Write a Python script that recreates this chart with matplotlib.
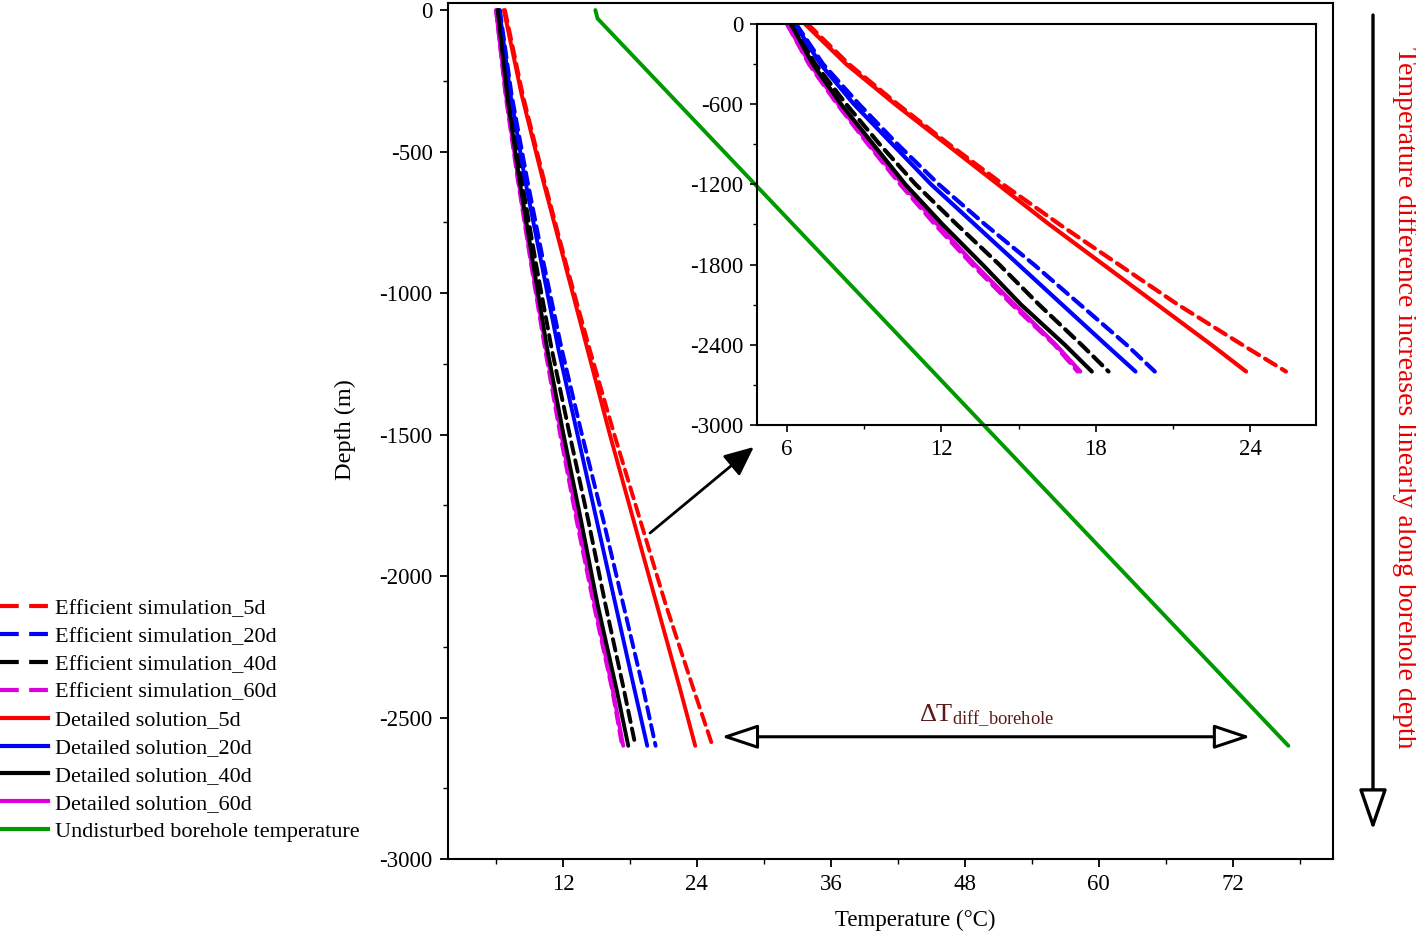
import numpy as np
import matplotlib
matplotlib.use('Agg')
from matplotlib import pyplot as plt
from matplotlib.ticker import MultipleLocator
from matplotlib.lines import Line2D

plt.rcParams['font.family'] = ['Liberation Serif', 'DejaVu Serif']
plt.rcParams['axes.unicode_minus'] = False
plt.rcParams['mathtext.fontset'] = 'custom'
plt.rcParams['mathtext.rm'] = 'Liberation Serif'

# depth points (m) and temperatures (C)
depth = [0, -300, -600, -900, -1200, -1500, -1800, -2100, -2400, -2600]
eff_5d = [6.8, 8.4, 10.3, 12.3, 14.4, 16.6, 18.9, 21.2, 23.7, 25.4]
eff_20d = [6.35, 7.4, 8.8, 10.3, 11.9, 13.7, 15.6, 17.4, 19.2, 20.3]
eff_40d = [6.2, 7.1, 8.3, 9.6, 11.0, 12.6, 14.25, 15.8, 17.45, 18.5]
eff_60d = [6.0, 6.85, 7.95, 9.15, 10.4, 11.75, 13.2, 14.75, 16.4, 17.3]
det_5d = [6.7, 8.3, 10.2, 12.2, 14.2, 16.2, 18.3, 20.4, 22.5, 23.85]
det_20d = [6.3, 7.3, 8.6, 10.1, 11.6, 13.3, 15.0, 16.7, 18.4, 19.55]
det_40d = [6.15, 7.0, 8.1, 9.35, 10.6, 12.05, 13.6, 15.1, 16.8, 17.85]
det_60d = [6.0, 6.9, 8.0, 9.2, 10.5, 11.85, 13.3, 14.85, 16.45, 17.4]
ground_depth = [0, -30, -2600]
ground_temp = [14.9, 15.1, 77.0]

labels = ['Efficient simulation_5d', 'Efficient simulation_20d',
          'Efficient simulation_40d', 'Efficient simulation_60d',
          'Detailed solution_5d', 'Detailed solution_20d',
          'Detailed solution_40d', 'Detailed solution_60d',
          'Undisturbed borehole temperature']

RED = '#ff0000'
BLUE = '#0000ff'
BLACK = '#000000'
MAG = '#dd00dd'
GREEN = '#009900'

series = [
    (eff_60d, MAG, True), (det_60d, MAG, False),
    (eff_5d, RED, True), (eff_20d, BLUE, True), (eff_40d, BLACK, True),
    (det_5d, RED, False), (det_20d, BLUE, False), (det_40d, BLACK, False),
]

fig = plt.figure(figsize=(14.16, 9.34), dpi=100)
ax = fig.add_axes([0.3164, 0.0803, 0.625, 0.9165])
ins = fig.add_axes([0.5346, 0.545, 0.3948, 0.4293])
ins.set_facecolor('none')


def draw_curves(a, lw):
    for vals, c, dashed in series:
        if dashed:
            a.plot(vals, depth, color=c, lw=lw, dashes=(3.0, 1.7),
                   solid_capstyle='round', dash_capstyle='round',
                   solid_joinstyle='round')
        else:
            a.plot(vals, depth, color=c, lw=lw, solid_capstyle='round',
                   solid_joinstyle='round')


draw_curves(ax, 2.8)
ax.plot(ground_temp, ground_depth, color=GREEN, lw=2.8, solid_capstyle='round')
draw_curves(ins, 3.0)

for a in (ax, ins):
    a.tick_params(which='both', direction='out', top=False, right=False,
                  labelsize=16.5)
    for s in a.spines.values():
        s.set_linewidth(1.5)

ax.set_xlim(1.7, 81.0)
ax.set_ylim(-3000, 25)
ax.xaxis.set_minor_locator(MultipleLocator(6))
ax.yaxis.set_major_locator(MultipleLocator(500))
ax.yaxis.set_minor_locator(MultipleLocator(250))
ax.set_xticks([12, 24, 36, 48, 60, 72])
ax.tick_params(which='major', length=6, width=1.3, pad=5)
ax.tick_params(which='minor', length=3.5, width=1.0)

ins.set_xlim(4.83, 26.57)
ins.set_ylim(-3000, 0)
ins.set_xticks([6, 12, 18, 24])
ins.xaxis.set_minor_locator(MultipleLocator(3))
ins.set_yticks([0, -600, -1200, -1800, -2400, -3000])
ins.yaxis.set_minor_locator(MultipleLocator(300))
ins.tick_params(which='major', length=5, width=1.2, pad=5)
ins.tick_params(which='minor', length=3, width=1.0)

fig.text(345 / 1416, 1 - 430 / 934, 'Depth (m)', rotation=90,
         ha='center', va='center', fontsize=17.5)
fig.text(915 / 1416, 1 - 920 / 934, 'Temperature (\u00b0C)',
         ha='center', va='center', fontsize=16.5)

# zoom arrow to inset
ax.annotate('', xy=(29.1, -1544), xytext=(19.8, -1848),
            arrowprops=dict(arrowstyle='-|>,head_length=1.0,head_width=0.45',
                            mutation_scale=18, fc='black', ec='black', lw=2,
                            shrinkA=0, shrinkB=0))

# temperature difference double arrow
ax.annotate('', xy=(73.6, -2568), xytext=(26.2, -2568),
            arrowprops=dict(arrowstyle='<|-|>,head_length=1.5,head_width=0.5',
                            mutation_scale=15, fc='white', ec='black', lw=2.2,
                            shrinkA=0, shrinkB=0))
ax.text(50.0, -2540, r'$\mathregular{\Delta T_{diff\_borehole}}$',
        ha='center', va='bottom', fontsize=19, color='#5c1a1a')

# right side arrow and note
ax.annotate('', xy=(1373 / 1416, 1 - 830 / 934), xytext=(1373 / 1416, 1 - 15 / 934),
            xycoords='figure fraction', textcoords='figure fraction',
            arrowprops=dict(arrowstyle='-|>,head_length=1.8,head_width=0.62',
                            mutation_scale=14, fc='white', ec='black', lw=2.4,
                            shrinkA=0, shrinkB=0), annotation_clip=False)
fig.text(1404 / 1416, 1 - 398 / 934,
         'Temperature difference increases linearly along borehole depth',
         rotation=-90, ha='center', va='center', fontsize=20, color='#e60000')

styles = [(RED, True), (BLUE, True), (BLACK, True), (MAG, True),
          (RED, False), (BLUE, False), (BLACK, False), (MAG, False),
          (GREEN, False)]
handles = []
for c, dashed in styles:
    if dashed:
        handles.append(Line2D([], [], color=c, lw=3, dashes=(4.5, 2.5)))
    else:
        handles.append(Line2D([], [], color=c, lw=3))
fig.legend(handles, labels, loc='center left', bbox_to_anchor=(0.0, 0.229),
           frameon=False, fontsize=16, handlelength=2.16, handletextpad=0.3,
           labelspacing=0.33, borderpad=0, borderaxespad=0)

fig.savefig('out.png', dpi=100)
